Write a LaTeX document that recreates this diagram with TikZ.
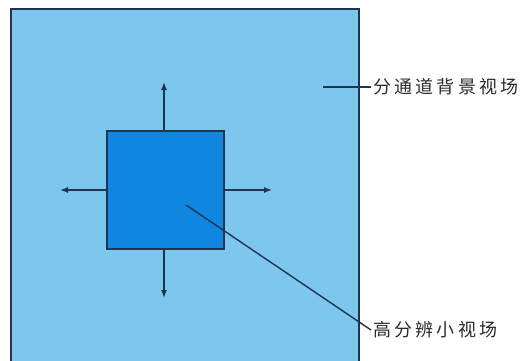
\documentclass[tikz,border=0pt]{standalone}
\usepackage{fontspec}
\newfontfamily\cjk[LetterSpace=18]{Noto Sans CJK SC}
\usetikzlibrary{arrows.meta}
\definecolor{bgblue}{HTML}{7DC6EE}
\definecolor{hiblue}{HTML}{0F86E0}
\definecolor{edge}{HTML}{1E3550}
\definecolor{txt}{HTML}{2B2B2B}
\tikzset{
  field/.style={draw=edge, line width=1.5pt, inner sep=0pt},
  move/.style={draw=edge, line width=1.4pt, -{Latex[length=8pt,width=6pt]}},
  leader/.style={draw=edge, line width=1.4pt},
  lab/.style={anchor=west, inner sep=0pt, text=txt, font=\cjk\fontsize{18pt}{18pt}\selectfont}
}
\begin{document}
\begin{tikzpicture}[x=1pt,y=-1pt]
\clip (0,0) rectangle (532,360);
\fill[white] (0,0) rectangle (532,360);
\node[field, fill=bgblue, minimum width=348pt, minimum height=360pt, anchor=north west] (bg) at (10,8) {};
\node[field, fill=hiblue, minimum width=117pt, minimum height=118pt] (hi) at (165.5,190) {};
\coordinate (up) at (164,82);
\coordinate (dn) at (164,298);
\coordinate (lf) at (60,190);
\coordinate (rt) at (272,190);
\draw[move] (hi.north -| up) -- (up);
\draw[move] (hi.south -| dn) -- (dn);
\draw[move] (hi.west) -- (lf);
\draw[move] (hi.east) -- (rt);
\node[lab] (l1) at (373,87) {分通道背景视场};
\node[lab] (l2) at (373,330) {高分辨小视场};
\coordinate (p1) at (323,87);
\coordinate (p2) at (186,205);
\draw[leader] (p1) -- ([xshift=-2pt]l1.west);
\draw[leader] (p2) -- ([xshift=-2pt]l2.west);
\end{tikzpicture}
\end{document}
